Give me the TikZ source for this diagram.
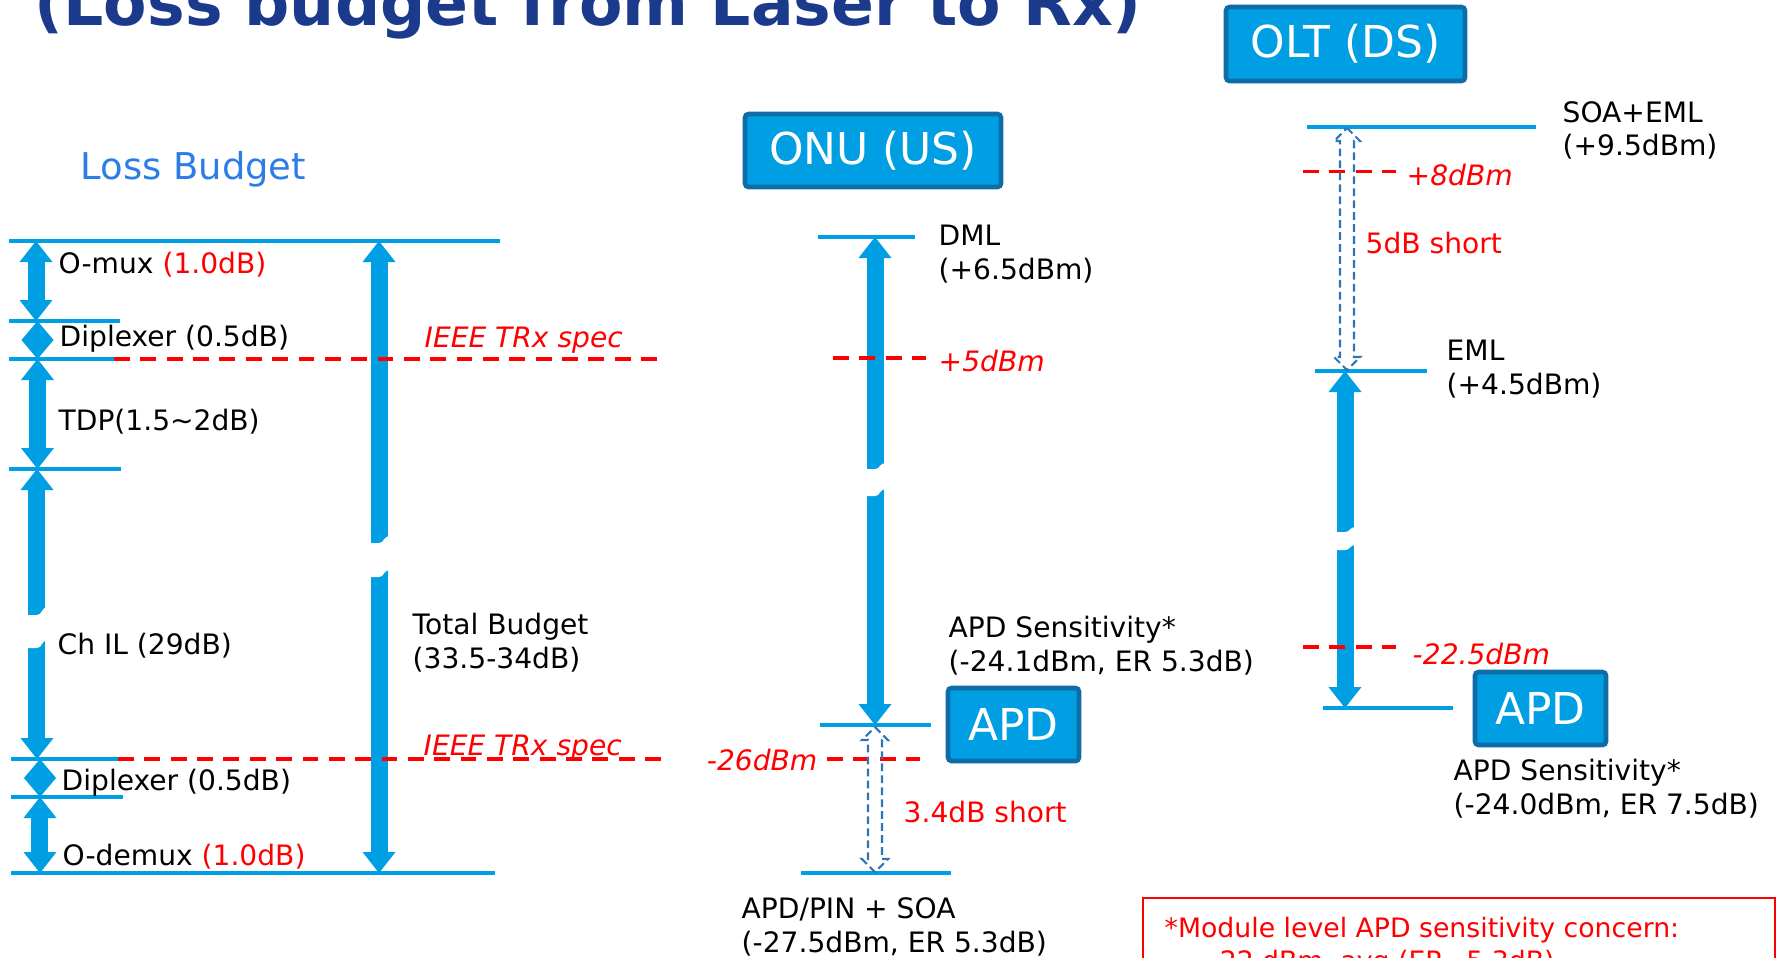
\documentclass[tikz,border=0pt]{standalone}
\usepackage{fontspec}
\setmainfont{DejaVu Sans}
\usetikzlibrary{arrows.meta, calc}

\definecolor{bblue}{RGB}{0,158,226}
\definecolor{bdark}{RGB}{14,108,166}
\definecolor{navy}{RGB}{28,58,140}
\definecolor{lossblue}{RGB}{45,125,230}
\definecolor{sblue}{RGB}{46,117,182}

\begin{document}
\begin{tikzpicture}[
    levelline/.style={draw=bblue, line width=1.1pt},
    budget/.style={draw=bblue, line width=0.17cm, {Triangle[width=0.33cm, length=0.21cm, line width=0pt]}-{Triangle[width=0.33cm, length=0.21cm, line width=0pt]}},
    spec/.style={draw=red, line width=1.1pt, dash pattern=on 4.5pt off 3pt},
    gapline/.style={draw=sblue, line width=0.6pt, dash pattern=on 2.2pt off 1.2pt},
    unitbox/.style={rectangle, draw=bdark, fill=bblue, line width=1.3pt, rounded corners=1pt, text=white, font=\fontsize{12.5}{15}\selectfont, minimum height=0.73cm, inner sep=0pt},
    txt/.style={anchor=west, inner sep=0pt, yshift=-0.7pt, align=left, font=\fontsize{8}{9.6}\selectfont},
    redtxt/.style={txt, text=red, font=\fontsize{8}{9.6}\selectfont\itshape}
]
\useasboundingbox (0,0) rectangle (17.81,-9.57);

% Title
\node[anchor=base west, inner sep=0pt, text=navy, font=\fontsize{18}{21}\selectfont\bfseries] (title) at (0.34,-0.25) {(Loss budget from Laser to Rx)};

% Loss budget
\node[txt, text=lossblue, font=\fontsize{10.5}{12.6}\selectfont] (lb) at (0.80,-1.67) {Loss Budget};

\draw[levelline] (0.09,-2.41) -- (5.00,-2.41);
\draw[levelline] (0.09,-3.21) -- (1.20,-3.21);
\draw[levelline] (0.09,-3.59) -- (1.14,-3.59);
\draw[levelline] (0.09,-4.69) -- (1.21,-4.69);
\draw[levelline] (0.11,-7.59) -- (1.18,-7.59);
\draw[levelline] (0.11,-7.97) -- (1.23,-7.97);
\draw[levelline] (0.11,-8.73) -- (4.95,-8.73);

\coordinate (mux1) at (0.36,-2.41);
\coordinate (mux2) at (0.36,-3.21);
\coordinate (dip1) at (0.375,-3.21);
\coordinate (dip2) at (0.375,-3.59);
\coordinate (tdp1) at (0.375,-3.59);
\coordinate (tdp2) at (0.375,-4.69);
\coordinate (ch1) at (0.37,-4.69);
\coordinate (ch2) at (0.37,-7.59);
\coordinate (dip3) at (0.40,-7.59);
\coordinate (dip4) at (0.40,-7.97);
\coordinate (demux1) at (0.40,-7.97);
\coordinate (demux2) at (0.40,-8.73);
\coordinate (tot1) at (3.79,-2.41);
\coordinate (tot2) at (3.79,-8.73);

\draw[budget] (mux1) -- (mux2);
\fill[bblue] (dip1) -- ++(0.16,-0.19) -- (dip2) -- ++(-0.16,0.19) -- cycle;
\draw[budget] (tdp1) -- (tdp2);
\draw[budget] (ch1) -- (ch2);
\fill[bblue] (dip3) -- ++(0.16,-0.19) -- (dip4) -- ++(-0.16,0.19) -- cycle;
\draw[budget] (demux1) -- (demux2);
\draw[budget] (tot1) -- (tot2);

\node[txt] (omux) at (0.58,-2.62) {O-mux \textcolor{red}{(1.0dB)}};
\node[txt] (dipl1) at (0.59,-3.36) {Diplexer (0.5dB)};
\node[txt] (tdp) at (0.58,-4.19) {TDP(1.5\textasciitilde 2dB)};
\node[txt] (chil) at (0.57,-6.43) {Ch IL (29dB)};
\node[txt] (dipl2) at (0.61,-7.80) {Diplexer (0.5dB)};
\node[txt] (demux) at (0.62,-8.54) {O-demux \textcolor{red}{(1.0dB)}};
\node[txt] (total) at (4.12,-6.405) {Total Budget\\(33.5-34dB)};

% ONU (US)
\node[unitbox, minimum width=2.56cm] (onu) at (8.73,-1.505) {ONU (US)};
\draw[levelline] (8.18,-2.37) -- (9.15,-2.37);
\draw[levelline] (8.20,-7.25) -- (9.31,-7.25);
\draw[levelline] (8.01,-8.73) -- (9.51,-8.73);
\coordinate (onu1) at (8.75,-2.37);
\coordinate (onu2) at (8.75,-7.25);
\draw[budget] (onu1) -- (onu2);
\node[txt] (dml) at (9.38,-2.515) {DML\\(+6.5dBm)};
\node[unitbox, minimum width=1.31cm] (apd1) at (10.135,-7.245) {APD};
\node[txt] (sens1) at (9.48,-6.435) {APD Sensitivity*\\(-24.1dBm, ER 5.3dB)};
\node[txt] (soa1) at (7.41,-9.245) {APD/PIN + SOA\\(-27.5dBm, ER 5.3dB)};

% OLT (DS)
\node[unitbox, minimum width=2.39cm, minimum height=0.74cm] (olt) at (13.455,-0.44) {OLT (DS)};
\draw[levelline] (13.07,-1.27) -- (15.36,-1.27);
\draw[levelline] (13.15,-3.71) -- (14.27,-3.71);
\draw[levelline] (13.23,-7.08) -- (14.53,-7.08);
\coordinate (olt1) at (13.45,-3.71);
\coordinate (olt2) at (13.45,-7.08);
\draw[budget] (olt1) -- (olt2);
\node[txt] (soaeml) at (15.62,-1.28) {SOA+EML\\(+9.5dBm)};
\node[txt] (eml) at (14.46,-3.665) {EML\\(+4.5dBm)};
\node[unitbox, minimum width=1.31cm] (apd2) at (15.405,-7.085) {APD};
\node[txt] (sens2) at (14.53,-7.865) {APD Sensitivity*\\(-24.0dBm, ER 7.5dB)};

% Breaks in the long arrows
\foreach \x/\ya/\yb/\yc/\yd in {0.37/6.15/6.07/6.40/6.48, 3.79/5.43/5.36/5.70/5.77, 8.75/4.69/4.63/4.89/4.96, 13.45/5.32/5.27/5.45/5.50}
  \fill[white] (\x-0.12,-\ya) -- (\x,-\ya) .. controls (\x+0.06,-\ya) and (\x+0.03,-\yb) .. (\x+0.12,-\yb) -- (\x+0.12,-\yc) .. controls (\x+0.03,-\yc) and (\x+0.06,-\yd) .. (\x,-\yd) -- (\x-0.12,-\yd) -- cycle;

% IEEE spec levels
\draw[spec] (1.14,-3.59) -- (6.64,-3.59);
\draw[spec] (1.18,-7.59) -- (6.64,-7.59);
\node[redtxt] (spec1) at (4.24,-3.38) {IEEE TRx spec};
\node[redtxt] (spec2) at (4.23,-7.46) {IEEE TRx spec};
\draw[spec] (8.33,-3.58) -- (9.26,-3.58);
\node[redtxt] (p5) at (9.38,-3.59) {+5dBm};
\draw[spec] (8.27,-7.59) -- (9.20,-7.59);
\node[redtxt, anchor=east] (m26) at (8.18,-7.58) {-26dBm};
\draw[spec] (13.03,-1.715) -- (13.96,-1.715);
\node[redtxt] (p8) at (14.06,-1.73) {+8dBm};
\draw[spec] (13.03,-6.47) -- (13.96,-6.47);
\node[redtxt] (m225) at (14.12,-6.52) {-22.5dBm};

% Shortfalls
\coordinate (g1) at (8.75,-7.27);
\coordinate (g2) at (8.75,-8.72);
\draw[gapline] (g1) -- ++(0.13,-0.13) -- ++(-0.06,0) -- ($(g2)+(0.07,0.13)$) -- ++(0.06,0) -- (g2) -- ++(-0.13,0.13) -- ++(0.06,0) -- ($(g1)+(-0.07,-0.13)$) -- ++(-0.06,0) -- cycle;
\node[txt, text=red] (short1) at (9.03,-8.10) {3.4dB short};
\coordinate (g3) at (13.47,-1.28);
\coordinate (g4) at (13.47,-3.70);
\draw[gapline] (g3) -- ++(0.13,-0.13) -- ++(-0.06,0) -- ($(g4)+(0.07,0.13)$) -- ++(0.06,0) -- (g4) -- ++(-0.13,0.13) -- ++(0.06,0) -- ($(g3)+(-0.07,-0.13)$) -- ++(-0.06,0) -- cycle;
\node[txt, text=red] (short2) at (13.65,-2.41) {5dB short};

% Note
\draw[red, line width=0.6pt] (11.43,-8.98) rectangle (17.75,-10.5);
\node[txt, text=red, font=\fontsize{7.6}{9.5}\selectfont, anchor=north west] (note) at (11.64,-9.14) {*Module level APD sensitivity concern:\\\hspace{1.7em}-22 dBm, avg (ER\textasciitilde 5.3dB)};

\end{tikzpicture}
\end{document}
